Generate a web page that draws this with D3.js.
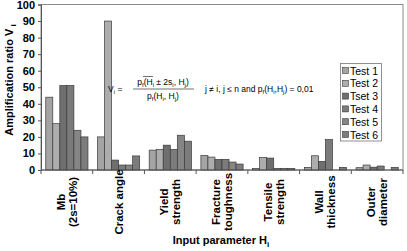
<!DOCTYPE html>
<html><head><meta charset="utf-8">
<script src="https://cdn.jsdelivr.net/npm/d3@7/dist/d3.min.js"></script>
<style>
body{margin:0;background:#fff;}
text{font-family:"Liberation Sans",Arial,sans-serif;}
</style></head>
<body><svg id="c" width="407" height="251"></svg>
<script>
const categories = [["Mb","(2s=10%)"],["Crack angle"],["Yield","strength"],["Fracture","toughness"],["Tensile","strength"],["Wall","thickness"],["Outer","diameter"]];
const seriesNames = ["Test 1","Test 2","Tset 3","Test 4","Test 5","Test 6"];
const test1 = [44, 20, 12, 8.8, 1, 1.6, 1.4];
const test2 = [28, 90, 12.4, 7.8, 7.6, 8.6, 3];
const test3 = [51, 6, 15, 6.4, 7.2, 5.2, 1.7];
const test4 = [51, 3, 12.4, 6.4, 1, 18.4, 2.4];
const test5 = [24, 3, 21, 4.8, 1, 0, 0];
const test6 = [20, 8.5, 17.4, 3.6, 1, 1.6, 1.6];
const yTicks = [0,10,20,30,40,50,60,70,80,90,100];
const seriesValues = [test1,test2,test3,test4,test5,test6];
const colors = ["#a4a4a4","#adadad","#6f6f6f","#7b7b7b","#858585","#7c7c7c"];

const svg = d3.select("#c");
const L=41, R=403, T=4.5, B=170;
const catKeys = categories.map((c,i)=>i);
const x0 = d3.scaleBand().domain(catKeys).range([L,R]).padding(0);
const gap = 9.5;
const x1 = d3.scaleBand().domain(d3.range(6)).range([gap/2, x0.bandwidth()-gap/2]).padding(0);
const y = d3.scaleLinear().domain([0,100]).range([B,T]);

// plot border
svg.append("rect").attr("x",L).attr("y",T).attr("width",R-L).attr("height",B-T)
  .attr("fill","#fff").attr("stroke","#8a8a8a").attr("stroke-width",1);

// bars
const g = svg.append("g");
seriesValues.forEach((vals,s)=>{
  g.selectAll(null).data(vals).enter().append("rect")
    .attr("x",(d,i)=>x0(i)+x1(s))
    .attr("y",d=>y(d))
    .attr("width",x1.bandwidth())
    .attr("height",d=>B-y(d))
    .attr("fill",colors[s])
    .attr("stroke",d=>d>0?"#3a3a3a":"none")
    .attr("stroke-width",0.7);
});

// y axis
const yAxis = d3.axisLeft(y).tickValues(yTicks).tickSize(3).tickPadding(3);
const ya = svg.append("g").attr("transform",`translate(${L},0)`).call(yAxis);
ya.select(".domain").attr("stroke","#555");
ya.selectAll(".tick line").attr("stroke","#555");
ya.selectAll("text").attr("font-size","11px").attr("font-weight","bold").attr("fill","#000")
  .attr("font-family","Liberation Sans,Arial,sans-serif");

// x axis: ticks at category boundaries
const xa = svg.append("g");
xa.append("line").attr("x1",L).attr("x2",R).attr("y1",B).attr("y2",B).attr("stroke","#555");
const bounds = catKeys.map(i=>x0(i)).concat([R]);
xa.selectAll(null).data(bounds).enter().append("line")
  .attr("x1",d=>d).attr("x2",d=>d).attr("y1",B).attr("y2",B+4).attr("stroke","#555");

// x labels (rotated, wrapped lines)
const lh = 12;
categories.forEach((lines,i)=>{
  const cx = x0(i)+x0.bandwidth()/2;
  const n = lines.length;
  const t = svg.append("text")
    .attr("transform",`translate(${cx},${202}) rotate(-90)`)
    .attr("text-anchor","middle").attr("font-size","11.5px").attr("font-weight","bold");
  lines.forEach((ln,k)=>{
    t.append("tspan").attr("x",0).attr("y",(k-(n-1)/2)*lh+4).text(ln);
  });
});

// axis titles
const yt = svg.append("text").attr("transform","translate(13,80) rotate(-90)")
  .attr("text-anchor","middle").attr("font-size","11px").attr("font-weight","bold");
yt.append("tspan").text("Amplification ratio V");
yt.append("tspan").attr("font-size","8px").attr("dy",3).text(" i");

const xt = svg.append("text").attr("x",221).attr("y",244)
  .attr("text-anchor","middle").attr("font-size","11px").attr("font-weight","bold");
xt.append("tspan").text("Input parameter H");
xt.append("tspan").attr("font-size","8px").attr("dy",3).text("i");

// formula
const fs = "8.5px";
const f1 = svg.append("text").attr("x",108).attr("y",92).attr("font-size",fs);
f1.append("tspan").text("V");
f1.append("tspan").attr("font-size","6px").attr("dy",2).text("i");
f1.append("tspan").attr("dy",-2).text(" =");
const num = svg.append("text").attr("x",163).attr("y",85).attr("text-anchor","middle").attr("font-size",fs);
num.append("tspan").text("p");
num.append("tspan").attr("font-size","6px").attr("dy",2).text("f");
num.append("tspan").attr("dy",-2).text("(H");
num.append("tspan").attr("font-size","6px").attr("dy",2).text("i");
num.append("tspan").attr("dy",-2).text(" ± 2s");
num.append("tspan").attr("font-size","6px").attr("dy",2).text("i");
num.append("tspan").attr("dy",-2).text(", H");
num.append("tspan").attr("font-size","6px").attr("dy",2).text("j");
num.append("tspan").attr("dy",-2).text(")");
svg.append("line").attr("x1",143).attr("x2",153).attr("y1",76.5).attr("y2",76.5).attr("stroke","#333").attr("stroke-width",0.7);
svg.append("line").attr("x1",133).attr("x2",194).attr("y1",89).attr("y2",89).attr("stroke","#333").attr("stroke-width",0.7);
const den = svg.append("text").attr("x",163).attr("y",98.5).attr("text-anchor","middle").attr("font-size",fs);
den.append("tspan").text("p");
den.append("tspan").attr("font-size","6px").attr("dy",2).text("f");
den.append("tspan").attr("dy",-2).text("(H");
den.append("tspan").attr("font-size","6px").attr("dy",2).text("i");
den.append("tspan").attr("dy",-2).text(", H");
den.append("tspan").attr("font-size","6px").attr("dy",2).text("j");
den.append("tspan").attr("dy",-2).text(")");
const cond = svg.append("text").attr("x",205).attr("y",92).attr("font-size",fs);
cond.append("tspan").text("j ≠ i,  j ≤ n  and  p");
cond.append("tspan").attr("font-size","6px").attr("dy",2).text("f");
cond.append("tspan").attr("dy",-2).text("(H");
cond.append("tspan").attr("font-size","6px").attr("dy",2).text("i");
cond.append("tspan").attr("dy",-2).text(",H");
cond.append("tspan").attr("font-size","6px").attr("dy",2).text("j");
cond.append("tspan").attr("dy",-2).text(") = 0,01");

// legend
const lg = svg.append("g");
lg.append("rect").attr("x",340.5).attr("y",63.5).attr("width",41).attr("height",77.5)
  .attr("fill","#fff").attr("stroke","#777").attr("stroke-width",0.8);
seriesNames.forEach((nm,s)=>{
  const yy = 70.5 + s*12.8;
  lg.append("rect").attr("x",342.5).attr("y",yy-3).attr("width",6).attr("height",6)
    .attr("fill",colors[s]).attr("stroke","#3a3a3a").attr("stroke-width",0.6);
  lg.append("text").attr("x",350).attr("y",yy+4).attr("font-size","10.5px").text(nm);
});
</script></body></html>
